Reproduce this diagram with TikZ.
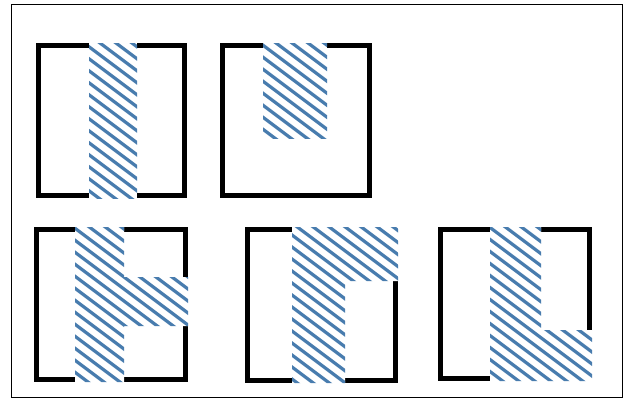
\documentclass[tikz,border=0pt]{standalone}
\definecolor{hatchblue}{RGB}{72,124,174}
\tikzset{
  frame/.style={draw=black, line width=1.6pt},
  box/.style={draw=black, line width=5pt, line join=miter},
  hatchline/.style={draw=hatchblue, line width=3.2pt},
}
\newcommand{\hatchregion}[1]{%
  \begin{scope}
    \fill[white] #1;
    \clip #1;
    \foreach \c in {-560,-548,...,460}{
      \draw[hatchline] (0,\c) -- (624,\c+468);
    }
  \end{scope}}
\begin{document}
\begin{tikzpicture}[x=1pt,y=-1pt]
\useasboundingbox (0,0) rectangle (624,407);
\fill[white] (0,0) rectangle (624,407);
% outer frame
\draw[frame] (11.5,4.5) rectangle (622.5,397.5);
% box 1
\draw[box] (38.5,45.5) rectangle (184.5,195.5);
\hatchregion{(89,43) rectangle (137,198)}
% box 2
\draw[box] (222.5,45.5) rectangle (369.5,195.5);
\hatchregion{(263,43) rectangle (327,138)}
% box 3
\draw[box] (36.5,229.5) rectangle (185.5,379.5);
\hatchregion{(75,227) -- (124,227) -- (124,277) -- (188,277) -- (188,326) -- (124,326) -- (124,382) -- (75,382) -- cycle}
% box 4
\draw[box] (247.5,229.5) rectangle (395.5,380.5);
\hatchregion{(292,227) -- (398,227) -- (398,281) -- (345,281) -- (345,383) -- (292,383) -- cycle}
% box 5
\draw[box] (440.5,229.5) rectangle (589.5,378.5);
\hatchregion{(490,227) -- (541,227) -- (541,330) -- (592,330) -- (592,381) -- (490,381) -- cycle}
\end{tikzpicture}
\end{document}
